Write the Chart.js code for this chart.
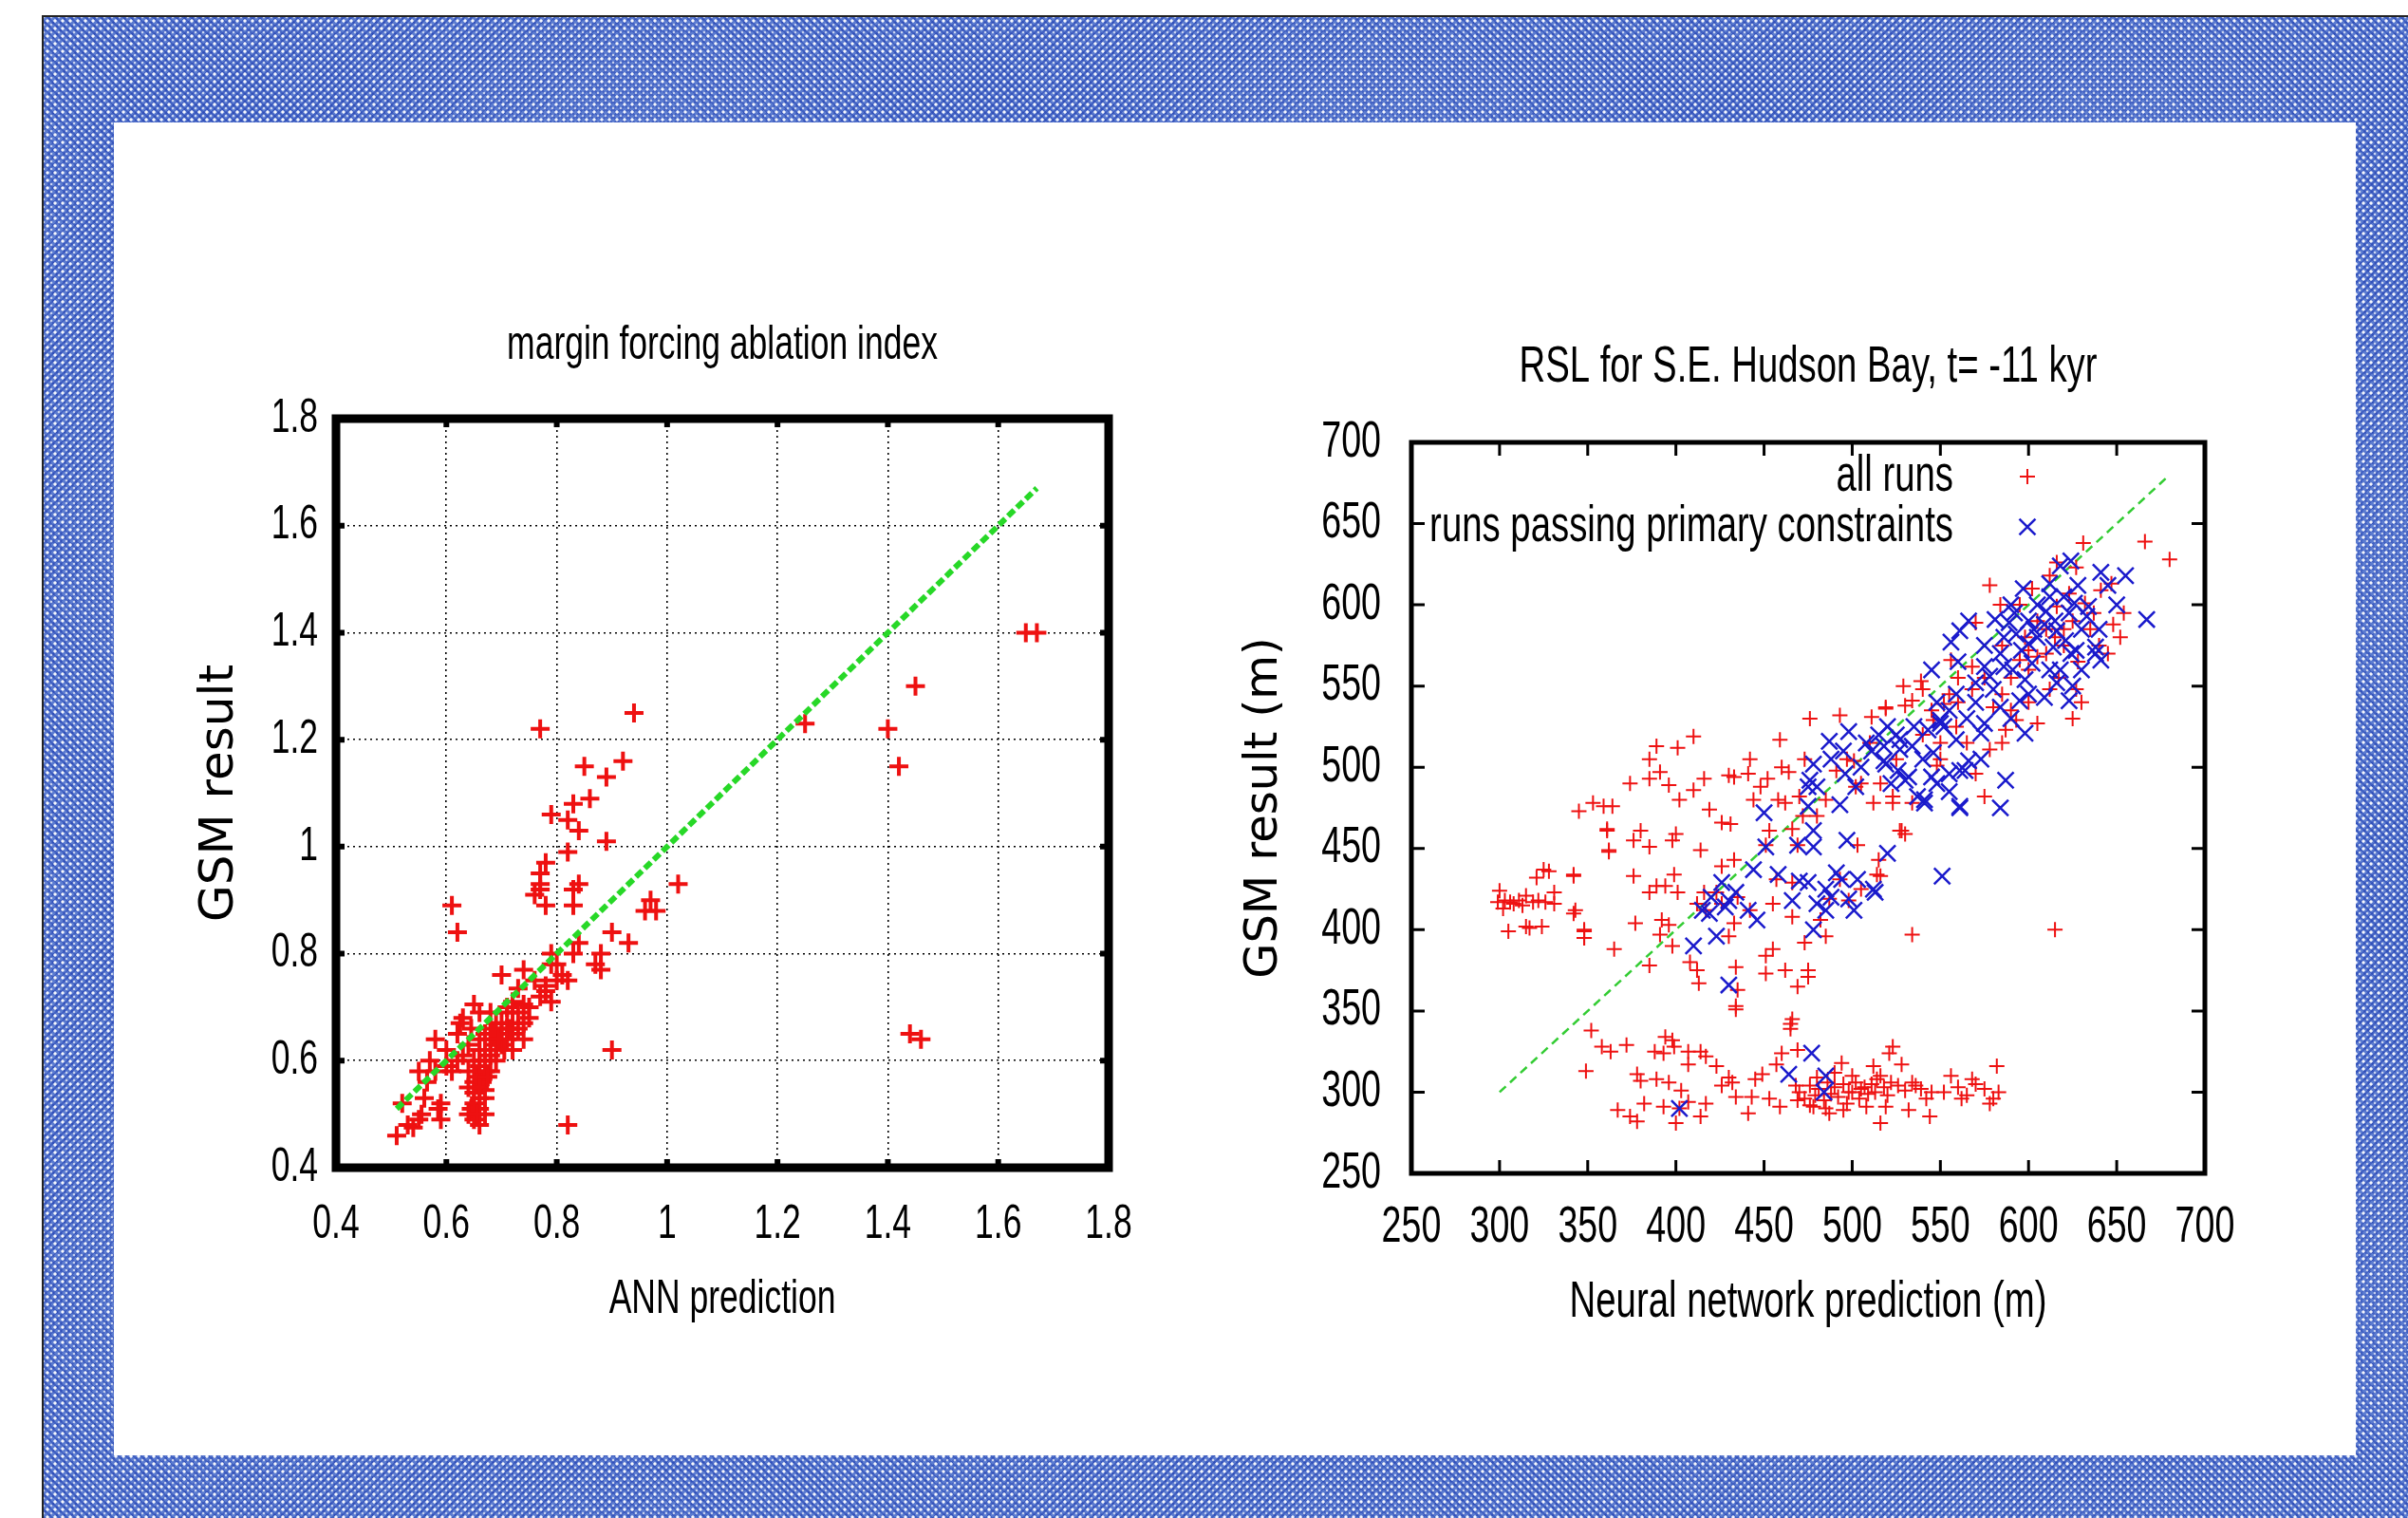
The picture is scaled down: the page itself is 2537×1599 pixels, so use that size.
<!DOCTYPE html>
<html>
<head>
<meta charset="utf-8">
<script src="https://cdn.jsdelivr.net/npm/chart.js@4.4.1/dist/chart.umd.min.js"></script>
<style>
    html, body { margin: 0; padding: 0; background: #fff; }
    #page { position: relative; width: 2537px; height: 1599px; overflow: hidden; background: #fff; }
    #mesh {
        position: absolute; left: 44px; top: 16px; right: 0; bottom: 0;
        border-left: 2px solid #222; border-top: 2px solid #222;
        background:
            radial-gradient(circle, rgba(255,255,255,0.95) 1.3px, transparent 2px) 0 0 / 8px 8px,
            radial-gradient(circle, rgba(255,255,255,0.7) 1px, transparent 1.7px) 4px 4px / 8px 8px,
            repeating-linear-gradient(45deg, rgba(20,50,170,0.35) 0 2px, transparent 2px 5.6px),
            repeating-linear-gradient(-45deg, rgba(20,50,170,0.35) 0 2px, transparent 2px 5.6px),
            #5b7bd0;
    }
    #panel { position: absolute; left: 120px; top: 129px; width: 2362px; height: 1404px; background: #fff; }
    canvas { position: absolute; }
    #leftChart { left: 150px; top: 290px; }
    #rightChart { left: 1300px; top: 300px; }
</style>
</head>
<body>
<div id="page">
    <div id="mesh"></div>
    <div id="panel"></div>
    <canvas id="leftChart" width="1100" height="1160"></canvas>
    <canvas id="rightChart" width="1150" height="1160"></canvas>
</div>
<script>
// ---- data: left panel (ANN prediction vs GSM result) ----
const leftTicks = [0.4, 0.6, 0.8, 1.0, 1.2, 1.4, 1.6, 1.8];
const leftFit = [0.51, 1.67];
const ablationRuns = [
    [1.65, 1.40], [1.67, 1.40], [1.45, 1.30], [1.25, 1.23], [1.40, 1.22], [1.42, 1.15], [1.44, 0.65], [1.46, 0.64],
    [0.77, 1.22], [0.94, 1.25], [0.92, 1.16], [0.85, 1.15], [0.89, 1.13], [0.86, 1.09], [0.83, 1.08], [0.82, 1.05],
    [0.84, 1.03], [0.79, 1.06], [0.82, 0.99], [0.89, 1.01], [0.78, 0.97], [0.77, 0.95], [0.77, 0.92], [0.76, 0.91],
    [0.78, 0.89], [0.77, 0.93], [0.83, 0.92], [0.84, 0.93], [0.83, 0.89], [0.96, 0.88], [0.97, 0.90], [0.98, 0.88],
    [1.02, 0.93], [0.61, 0.89], [0.62, 0.84], [0.90, 0.84], [0.93, 0.82], [0.84, 0.82], [0.83, 0.80], [0.88, 0.80],
    [0.87, 0.78], [0.88, 0.77], [0.79, 0.80], [0.80, 0.78], [0.81, 0.76], [0.82, 0.75], [0.78, 0.73], [0.79, 0.71],
    [0.78, 0.74], [0.70, 0.76], [0.74, 0.77], [0.73, 0.735], [0.74, 0.705], [0.75, 0.68], [0.74, 0.64], [0.77, 0.72],
    [0.90, 0.62], [0.82, 0.48], [0.51, 0.46], [0.52, 0.52], [0.55, 0.58], [0.54, 0.475], [0.55, 0.49], [0.555, 0.50],
    [0.585, 0.51], [0.59, 0.49], [0.58, 0.64], [0.565, 0.56], [0.60, 0.59], [0.62, 0.60], [0.625, 0.67], [0.65, 0.705],
    [0.66, 0.69], [0.68, 0.69], [0.64, 0.63], [0.65, 0.56], [0.645, 0.51], [0.65, 0.49], [0.66, 0.48], [0.67, 0.545],
    [0.66, 0.53], [0.66, 0.59], [0.67, 0.62], [0.68, 0.64], [0.69, 0.62], [0.70, 0.65], [0.71, 0.66], [0.72, 0.67],
    [0.67, 0.60], [0.68, 0.61], [0.69, 0.63], [0.70, 0.63], [0.71, 0.64], [0.72, 0.65], [0.73, 0.66], [0.74, 0.67],
    [0.75, 0.70], [0.73, 0.69], [0.72, 0.62], [0.68, 0.66], [0.67, 0.65], [0.66, 0.62], [0.65, 0.52], [0.66, 0.51],
    [0.67, 0.50], [0.65, 0.54], [0.68, 0.58], [0.69, 0.67], [0.71, 0.69], [0.72, 0.71], [0.76, 0.75], [0.79, 0.78],
    [0.80, 0.75], [0.53, 0.48], [0.56, 0.53], [0.58, 0.58], [0.61, 0.58], [0.59, 0.52],
    [0.64, 0.55], [0.64, 0.50], [0.655, 0.57], [0.66, 0.60], [0.665, 0.56], [0.67, 0.58], [0.68, 0.62], [0.685, 0.65],
    [0.69, 0.60], [0.695, 0.64], [0.70, 0.67], [0.705, 0.62], [0.71, 0.70], [0.715, 0.66], [0.66, 0.64], [0.65, 0.60],
    [0.64, 0.58], [0.63, 0.61], [0.645, 0.66], [0.63, 0.68], [0.655, 0.50], [0.66, 0.55], [0.67, 0.53], [0.675, 0.57],
    [0.62, 0.65], [0.60, 0.62], [0.57, 0.60]
];

// ---- data: right panel (RSL for S.E. Hudson Bay) ----
const rslTicks = [250, 300, 350, 400, 450, 500, 550, 600, 650, 700];
const rightFit = [300, 680];
const allRuns = [
    // far left group
    [300, 424], [299, 417], [303, 418], [306, 417], [311, 418], [315, 421], [319, 417], [322, 418], [326, 417], [331, 416],
    [331, 423], [321, 432], [325, 437], [328, 436], [305, 399], [315, 402], [317, 401], [324, 402], [342, 433], [342, 410],
    [348, 400], [348, 395], [365, 388], [361, 461], [362, 448], [308, 416], [313, 415], [302, 413],
    // middle scatter
    [345, 473], [353, 478], [359, 476], [364, 476], [361, 462], [362, 449], [342, 434], [343, 412], [348, 399], [348, 395],
    [374, 490], [385, 493], [385, 505], [389, 513], [391, 497], [396, 489], [401, 512], [410, 519], [402, 480], [410, 486],
    [416, 493], [376, 455], [380, 461], [385, 451], [376, 433], [385, 423], [389, 427], [394, 427], [399, 434], [400, 459],
    [398, 455], [401, 423], [414, 449], [377, 404], [392, 406], [396, 403], [391, 397], [398, 390], [385, 378], [408, 380],
    [412, 375], [413, 367], [419, 474], [426, 466], [431, 465], [430, 495], [433, 494], [441, 496], [442, 505], [448, 488],
    [452, 493], [444, 480], [459, 517], [460, 500], [464, 497], [462, 478], [466, 462], [476, 530], [473, 505], [493, 532],
    [511, 531], [519, 536], [530, 538], [501, 504], [491, 498], [502, 488], [512, 478], [523, 478], [516, 490], [528, 461],
    [503, 452], [514, 434], [534, 397], [426, 439], [433, 443], [416, 423], [412, 416], [417, 412], [423, 423], [426, 416],
    [433, 404], [430, 396], [435, 420], [442, 412], [455, 416], [457, 431], [466, 429], [466, 408], [451, 452], [453, 461],
    [469, 452], [473, 392], [485, 396], [434, 377], [451, 384], [451, 373], [455, 388], [462, 375], [469, 365], [475, 375],
    [475, 371], [434, 353], [435, 363], [466, 345], [482, 406], [487, 419], [493, 431], [498, 418], [505, 425], [515, 443],
    [516, 433], [615, 400],
    // lower band
    [352, 338], [349, 313], [358, 328], [363, 325], [372, 329], [394, 334], [398, 332], [399, 328], [388, 325], [393, 324],
    [407, 325], [414, 325], [417, 322], [423, 316], [407, 317], [378, 311], [380, 307], [389, 308], [396, 306], [382, 293],
    [367, 289], [374, 285], [378, 282], [393, 291], [400, 281], [402, 290], [407, 294], [414, 285], [417, 293], [403, 301],
    [426, 304], [432, 306], [434, 297], [430, 309], [434, 351], [441, 287], [443, 297], [445, 308], [449, 311], [453, 296],
    [459, 291], [457, 317], [460, 324], [465, 339], [465, 342], [469, 326], [468, 304], [469, 295], [478, 291], [487, 287],
    [494, 318], [498, 300], [505, 302], [512, 316], [516, 310], [514, 308], [523, 328], [521, 324], [528, 317], [516, 281],
    [519, 291], [534, 306], [532, 289], [539, 302], [545, 300], [544, 285], [470, 300], [473, 296], [476, 304], [479, 298],
    [481, 302], [484, 295], [486, 306], [488, 299], [490, 303], [492, 297], [495, 305], [497, 293], [500, 300], [502, 306],
    [504, 296], [507, 303], [509, 299], [511, 305], [513, 300], [518, 303], [520, 298], [522, 306], [480, 309], [490, 312],
    [500, 310], [476, 292], [485, 290], [495, 289], [508, 291], [526, 304], [530, 301], [536, 304], [542, 296], [552, 300],
    [556, 310], [560, 303], [565, 298], [570, 305], [575, 302], [580, 296], [582, 316], [583, 300], [578, 293], [562, 296],
    [568, 308],
    // upper cluster
    [631, 638], [666, 639], [680, 628], [578, 612], [584, 600], [519, 537], [529, 550], [539, 553], [540, 548], [534, 541],
    [552, 539], [556, 566], [568, 562], [570, 589], [616, 626], [627, 623], [647, 613], [654, 595], [652, 580], [630, 540],
    [605, 527], [600, 572], [605, 568], [527, 461], [530, 459], [523, 482], [534, 478], [575, 482], [570, 496], [548, 501],
    [578, 511], [587, 523], [593, 529], [641, 609], [632, 601], [648, 588], [616, 599], [623, 607], [627, 548], [612, 548],
    [595, 566], [580, 537], [559, 525], [546, 529], [605, 590], [610, 585], [615, 580], [620, 575], [600, 560], [590, 555],
    [585, 575], [625, 590], [635, 585], [640, 575], [560, 555], [550, 515], [540, 520], [585, 545],
    [595, 600], [602, 610], [612, 618], [620, 585], [637, 595], [645, 570], [628, 565], [610, 570], [598, 580], [575, 555],
    [568, 548], [555, 545], [545, 535], [560, 540], [590, 535], [600, 540], [617, 555], [625, 530], [585, 515], [565, 515],
    [550, 505], [525, 505], [510, 515], [505, 490], [497, 505], [485, 480], [480, 470], [470, 482], [472, 470], [458, 480]
];
const passingRuns = [
    [402, 290], [464, 311], [477, 324], [485, 310], [484, 300],
    [450, 472], [451, 451], [410, 390], [423, 396], [419, 410], [430, 418], [434, 423], [426, 429], [441, 412], [446, 406],
    [444, 437], [458, 434], [466, 418], [469, 452], [475, 429], [478, 461], [478, 451], [478, 400], [480, 416], [485, 412],
    [485, 425], [491, 435], [494, 431], [498, 419], [503, 431], [501, 412], [513, 423], [512, 425], [520, 447], [551, 433],
    [430, 366], [475, 488], [476, 492], [480, 488], [475, 476], [478, 502], [487, 516], [498, 522], [496, 496], [502, 488],
    [493, 477], [497, 455], [511, 510], [518, 504], [527, 511], [532, 494], [541, 478], [545, 494], [550, 527], [561, 476],
    [624, 627], [618, 624], [641, 620], [655, 618], [667, 591], [597, 610], [612, 613], [626, 601], [634, 599], [566, 590],
    [561, 584], [556, 577], [581, 591], [589, 589], [586, 580], [593, 582], [600, 576], [605, 580], [609, 588], [616, 584],
    [623, 595], [621, 578], [614, 574], [624, 570], [627, 572], [638, 574], [641, 566], [638, 570], [584, 570], [575, 562],
    [570, 552], [578, 556], [591, 560], [598, 554], [602, 564], [612, 560], [616, 552], [609, 543], [623, 541], [559, 545],
    [550, 529], [552, 525], [543, 523], [559, 517], [575, 527], [584, 537], [595, 541], [598, 521], [573, 521], [566, 504],
    [561, 498], [546, 509], [534, 513], [527, 517], [518, 513], [519, 502], [530, 492], [537, 482], [541, 480], [555, 496],
    [564, 498], [573, 505], [587, 492], [561, 475], [584, 475], [415, 412], [420, 420], [428, 414], [470, 430], [488, 420],
    [600, 590], [610, 596], [615, 590], [620, 605], [630, 585], [605, 600], [590, 600], [525, 520], [535, 525],
    [628, 612], [633, 593], [612, 605], [603, 585], [596, 572], [586, 562], [580, 548], [570, 540], [565, 530], [555, 535],
    [548, 540], [545, 560], [560, 565], [575, 575], [592, 595], [618, 560], [630, 560], [625, 550], [640, 585], [650, 600],
    [645, 612], [600, 545], [590, 530], [520, 525], [515, 520], [540, 505], [548, 490], [555, 485], [505, 500], [508, 515],
    [495, 510], [488, 505], [522, 490], [526, 498]
];

// The original uses a condensed Helvetica; Liberation Sans is squeezed horizontally to match
const narrowFont = "'Liberation Sans', Arial, sans-serif";
const wideFont = "'DejaVu Sans', sans-serif";
const squeeze = 0.71;

Chart.defaults.font.family = narrowFont;
Chart.defaults.color = "#000";

const toPoints = (pairs) => pairs.map(([x, y]) => ({ x, y }));
const fitLine = (ends) => ends.map((v) => ({ x: v, y: v }));

// Condense every narrow-font string through fillText's maxWidth argument
const squeezePlugin = {
    id: "squeeze",
    beforeInit(chart) {
        const ctx = chart.ctx;
        const fill = ctx.fillText.bind(ctx);
        ctx.fillText = (text, x, y, maxWidth) => {
            if (ctx.font.includes("Liberation")) {
                const w = ctx.measureText(text).width * squeeze;
                maxWidth = maxWidth === undefined ? w : Math.min(maxWidth, w);
            }
            if (maxWidth === undefined) fill(text, x, y);
            else fill(text, x, y, maxWidth);
        };
    },
};

// Thick box around the plot area, with short inward ticks on all four sides
const framePlugin = {
    id: "frame",
    afterDatasetsDraw(chart, args, opts) {
        const { ctx, chartArea: a, scales } = chart;
        ctx.save();
        ctx.strokeStyle = "#000";
        ctx.lineWidth = opts.tickWidth;
        ctx.beginPath();
        for (const t of scales.x.ticks) {
            const px = scales.x.getPixelForValue(t.value);
            ctx.moveTo(px, a.bottom);
            ctx.lineTo(px, a.bottom - opts.tickLength);
            ctx.moveTo(px, a.top);
            ctx.lineTo(px, a.top + opts.tickLength);
        }
        for (const t of scales.y.ticks) {
            const py = scales.y.getPixelForValue(t.value);
            ctx.moveTo(a.left, py);
            ctx.lineTo(a.left + opts.tickLength, py);
            ctx.moveTo(a.right, py);
            ctx.lineTo(a.right - opts.tickLength, py);
        }
        ctx.stroke();
        ctx.lineWidth = opts.width;
        ctx.strokeRect(a.left, a.top, a.width, a.height);
        ctx.restore();
    },
};

// gnuplot-style key: right-aligned label, then the marker
const keyPlugin = {
    id: "key",
    afterDraw(chart, args, opts) {
        if (!opts.display) return;
        const { ctx, chartArea: a } = chart;
        ctx.save();
        ctx.font = opts.font;
        ctx.fillStyle = "#000";
        ctx.textAlign = "right";
        ctx.textBaseline = "middle";
        let row = 0;
        chart.data.datasets.forEach((ds) => {
            if (!ds.label) return;
            const y = a.top + opts.top + row * opts.rowHeight;
            ctx.fillText(ds.label, a.right - opts.textRight, y);
            const x = a.right - opts.symbolRight;
            const r = ds.pointRadius;
            ctx.strokeStyle = ds.borderColor;
            ctx.lineWidth = ds.pointBorderWidth;
            ctx.beginPath();
            if (ds.pointStyle === "cross") {
                ctx.moveTo(x - r, y); ctx.lineTo(x + r, y);
                ctx.moveTo(x, y - r); ctx.lineTo(x, y + r);
            } else {
                const d = r * Math.SQRT1_2;
                ctx.moveTo(x - d, y - d); ctx.lineTo(x + d, y + d);
                ctx.moveTo(x - d, y + d); ctx.lineTo(x + d, y - d);
            }
            ctx.stroke();
            row++;
        });
        ctx.restore();
    },
};

function fixedAxis(size, horizontal) {
    return (scale) => {
        if (horizontal) scale.height = size;
        else scale.width = size;
    };
}

function setTicks(values) {
    return (scale) => {
        scale.ticks = values.map((v) => ({ value: v }));
    };
}

// Left panel
new Chart(document.getElementById("leftChart"), {
    type: "scatter",
    data: {
        datasets: [
            {
                label: "",
                type: "line",
                data: fitLine(leftFit),
                borderColor: "#27d827",
                borderWidth: 6,
                borderDash: [9, 4],
                pointRadius: 0,
                fill: false,
                order: 0,
            },
            {
                label: "",
                data: toPoints(ablationRuns),
                pointStyle: "cross",
                pointRadius: 10,
                pointBorderWidth: 4,
                borderColor: "#ee1111",
                backgroundColor: "#ee1111",
                order: 1,
            },
        ],
    },
    options: {
        responsive: false,
        animation: false,
        devicePixelRatio: 1,
        layout: { padding: { left: 0, right: 82, top: 0, bottom: 0 } },
        scales: {
            x: {
                type: "linear",
                min: 0.4,
                max: 1.8,
                afterBuildTicks: setTicks(leftTicks),
                afterFit: fixedAxis(220, true),
                grid: { color: "#000", lineWidth: 1.6, drawTicks: false },
                border: { display: false, dash: [2, 4] },
                ticks: {
                    padding: 30,
                    autoSkip: false,
                    maxRotation: 0,
                    font: { size: 50 },
                    callback: (v) => String(+v.toFixed(1)),
                },
                title: {
                    display: true,
                    text: "ANN prediction",
                    font: { size: 50 },
                    padding: { top: 51, bottom: 51 },
                },
            },
            y: {
                type: "linear",
                min: 0.4,
                max: 1.8,
                afterBuildTicks: setTicks(leftTicks),
                afterFit: fixedAxis(204, false),
                grid: { color: "#000", lineWidth: 1.6, drawTicks: false },
                border: { display: false, dash: [2, 4] },
                ticks: {
                    padding: 19,
                    autoSkip: false,
                    font: { size: 50 },
                    callback: (v) => String(+v.toFixed(1)),
                },
                title: {
                    display: true,
                    text: "GSM result",
                    font: { size: 50, family: wideFont },
                    padding: { top: 52, bottom: 52 },
                },
            },
        },
        plugins: {
            legend: { display: false },
            tooltip: { enabled: false },
            title: {
                display: true,
                fullSize: false,
                text: "margin forcing ablation index",
                font: { size: 50, weight: "normal" },
                padding: { top: 44, bottom: 47 },
            },
            frame: { width: 9, tickLength: 9, tickWidth: 6 },
            key: { display: false },
        },
    },
    plugins: [squeezePlugin, framePlugin, keyPlugin],
});

// Right panel
new Chart(document.getElementById("rightChart"), {
    type: "scatter",
    data: {
        datasets: [
            {
                label: "",
                type: "line",
                data: fitLine(rightFit),
                borderColor: "#33cc33",
                borderWidth: 2.5,
                borderDash: [9, 6],
                pointRadius: 0,
                fill: false,
                order: 3,
            },
            {
                label: "all runs",
                data: toPoints(allRuns),
                pointStyle: "cross",
                pointRadius: 8,
                pointBorderWidth: 2,
                borderColor: "#ee1111",
                backgroundColor: "#ee1111",
                order: 2,
            },
            {
                label: "runs passing primary constraints",
                data: toPoints(passingRuns),
                pointStyle: "crossRot",
                pointRadius: 12,
                pointBorderWidth: 2.5,
                borderColor: "#1a1acc",
                backgroundColor: "#1a1acc",
                order: 1,
            },
        ],
    },
    options: {
        responsive: false,
        animation: false,
        devicePixelRatio: 1,
        layout: { padding: { left: 0, right: 127, top: 0, bottom: 0 } },
        scales: {
            x: {
                type: "linear",
                min: 250,
                max: 700,
                afterBuildTicks: setTicks(rslTicks),
                afterFit: fixedAxis(224, true),
                grid: { display: false },
                border: { display: false },
                ticks: { padding: 18, autoSkip: false, maxRotation: 0, font: { size: 53 } },
                title: {
                    display: true,
                    text: "Neural network prediction (m)",
                    font: { size: 54 },
                    padding: { top: 55, bottom: 55 },
                },
            },
            y: {
                type: "linear",
                min: 250,
                max: 700,
                afterBuildTicks: setTicks(rslTicks),
                afterFit: fixedAxis(187, false),
                grid: { display: false },
                border: { display: false },
                ticks: { padding: 24, autoSkip: false, font: { size: 53 } },
                title: {
                    display: true,
                    text: "GSM result (m)",
                    font: { size: 48, family: wideFont },
                    padding: { top: 4, bottom: 4 },
                },
            },
        },
        plugins: {
            legend: { display: false },
            tooltip: { enabled: false },
            title: {
                display: true,
                fullSize: false,
                text: "RSL for S.E. Hudson Bay, t= -11 kyr",
                font: { size: 54, weight: "normal" },
                padding: { top: 55, bottom: 46.2 },
            },
            frame: { width: 5, tickLength: 14, tickWidth: 3 },
            key: {
                display: true,
                font: "54px " + narrowFont,
                top: 36,
                rowHeight: 53,
                textRight: 265,
                symbolRight: 187,
            },
        },
    },
    plugins: [squeezePlugin, framePlugin, keyPlugin],
});
</script>
</body>
</html>
